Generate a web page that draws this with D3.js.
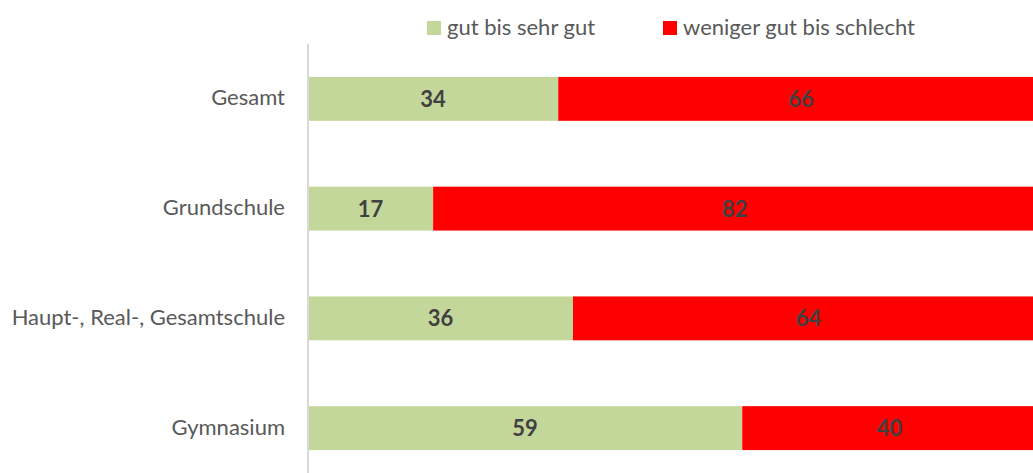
<!DOCTYPE html>
<html>
<head>
<meta charset="utf-8">
<script src="https://cdn.jsdelivr.net/npm/d3@7"></script>
<style>
  html, body { margin: 0; padding: 0; background: #fff; overflow: hidden; }
  svg { display: block; }
  text { font-family: Lato, "Open Sans", sans-serif; }
</style>
</head>
<body>
<svg id="chart" width="1033" height="473"></svg>
<script>
// Schulformen und Anteile (in Prozent)
const categories = ["Gesamt", "Grundschule", "Haupt-, Real-, Gesamtschule", "Gymnasium"];
const seriesNames = ["gut bis sehr gut", "weniger gut bis schlecht"];
const gutValues = [34, 17, 36, 59];
const schlechtValues = [66, 82, 64, 40];
const colors = ["#c4d79b", "#ff0000"];

const svg = d3.select("#chart");

const x = d3.scaleLinear().domain([0, 100]).range([308, 1044]);
const y = d3.scaleBand().domain(categories).range([44, 483])
  .paddingInner(0.6).paddingOuter(0.3);

const rows = categories.map((c, i) => ({ cat: c, gut: gutValues[i], schlecht: schlechtValues[i] }));
const stacked = d3.stack().keys(["gut", "schlecht"])(rows);

// Balkensegmente
const layers = svg.append("g").selectAll("g").data(stacked).join("g")
  .attr("fill", (d, i) => colors[i]);

layers.selectAll("rect").data(d => d).join("rect")
  .attr("x", d => x(d[0]))
  .attr("y", d => y(d.data.cat))
  .attr("width", d => x(d[1]) - x(d[0]))
  .attr("height", y.bandwidth());

// Wertebeschriftungen
layers.selectAll("text").data(d => d.map(v => ({ v, key: d.key }))).join("text")
  .attr("x", d => (x(d.v[0]) + x(d.v[1])) / 2)
  .attr("y", d => y(d.v.data.cat) + y.bandwidth() / 2 + 8)
  .attr("text-anchor", "middle")
  .attr("fill", "#404040")
  .attr("font-weight", "bold")
  .attr("font-size", "22px")
  .text(d => d.v.data[d.key]);

// Kategorienachse
const yAxis = svg.append("g").attr("transform", "translate(308,0)")
  .call(d3.axisLeft(y).tickSize(0).tickPadding(23));
yAxis.select(".domain").remove();
yAxis.selectAll("text")
  .attr("fill", "#595959")
  .attr("font-size", "22px")
  .attr("dy", "0.3em")
  .style("font-family", "Lato, 'Open Sans', sans-serif");

svg.append("line")
  .attr("x1", 308).attr("x2", 308)
  .attr("y1", 44).attr("y2", 473)
  .attr("stroke", "#d9d9d9").attr("stroke-width", 2);

// Legende
const legendX = [427, 663];
const legend = svg.append("g").selectAll("g").data(seriesNames).join("g")
  .attr("transform", (d, i) => `translate(${legendX[i]},0)`);
legend.append("rect")
  .attr("x", 0).attr("y", 21).attr("width", 14).attr("height", 14)
  .attr("fill", (d, i) => colors[i]);
legend.append("text")
  .attr("x", 20).attr("y", 35)
  .attr("fill", "#595959")
  .attr("font-size", "22px")
  .text(d => d);
</script>
</body>
</html>
